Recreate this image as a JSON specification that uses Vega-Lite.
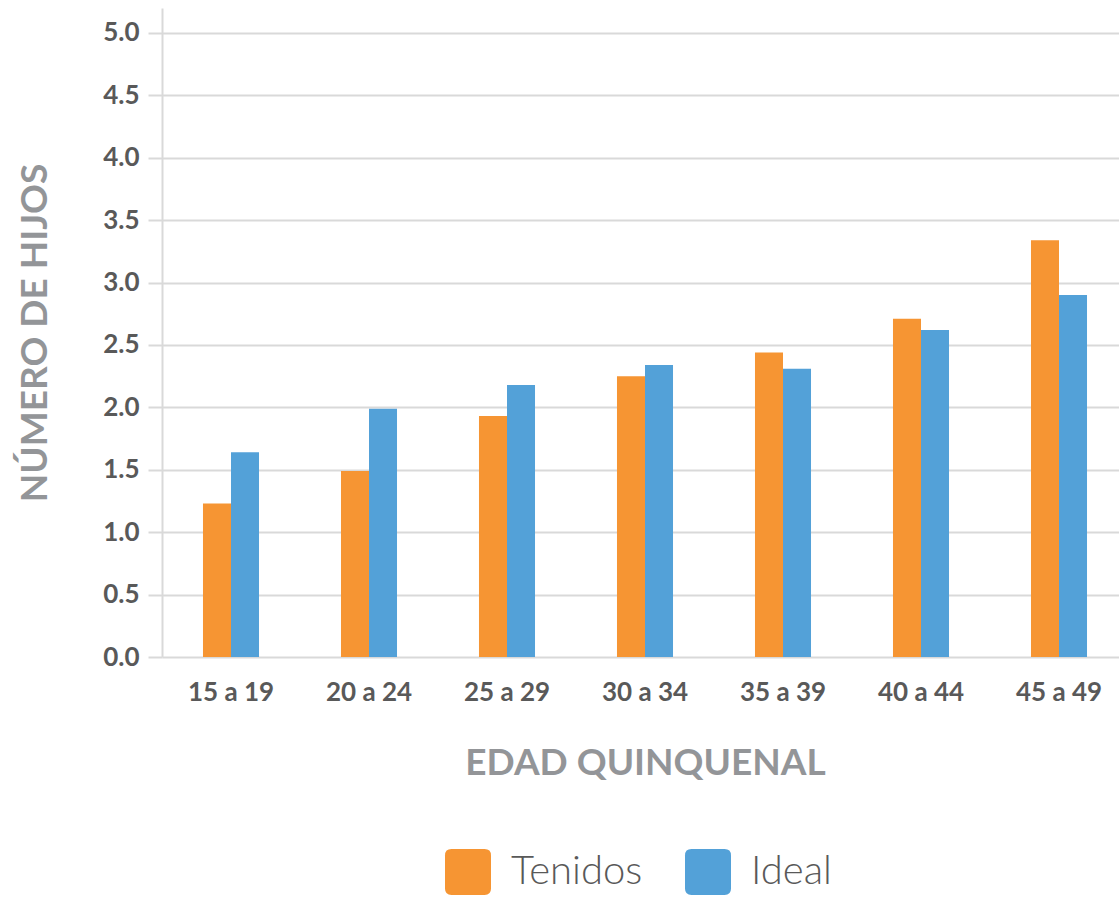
{
  "$schema": "https://vega.github.io/schema/vega-lite/v6.json",
  "width": 966,
  "height": 649,
  "padding": {"left": 16, "top": 8, "right": 0, "bottom": 0},
  "background": "white",
  "data": {
    "values": [
      {"edad": "15 a 19", "serie": "Tenidos", "valor": 1.23},
      {"edad": "15 a 19", "serie": "Ideal", "valor": 1.64},
      {"edad": "20 a 24", "serie": "Tenidos", "valor": 1.49},
      {"edad": "20 a 24", "serie": "Ideal", "valor": 1.99},
      {"edad": "25 a 29", "serie": "Tenidos", "valor": 1.93},
      {"edad": "25 a 29", "serie": "Ideal", "valor": 2.18},
      {"edad": "30 a 34", "serie": "Tenidos", "valor": 2.25},
      {"edad": "30 a 34", "serie": "Ideal", "valor": 2.34},
      {"edad": "35 a 39", "serie": "Tenidos", "valor": 2.44},
      {"edad": "35 a 39", "serie": "Ideal", "valor": 2.31},
      {"edad": "40 a 44", "serie": "Tenidos", "valor": 2.71},
      {"edad": "40 a 44", "serie": "Ideal", "valor": 2.62},
      {"edad": "45 a 49", "serie": "Tenidos", "valor": 3.34},
      {"edad": "45 a 49", "serie": "Ideal", "valor": 2.90}
    ]
  },
  "mark": {"type": "bar"},
  "encoding": {
    "x": {
      "field": "edad",
      "type": "nominal",
      "sort": null,
      "scale": {"paddingInner": 0.594, "paddingOuter": 0.297},
      "axis": {
        "title": "EDAD QUINQUENAL",
        "labelAngle": 0,
        "domain": false,
        "ticks": false,
        "labelPadding": 22,
        "titlePadding": 40
      }
    },
    "xOffset": {
      "field": "serie",
      "type": "nominal",
      "sort": ["Tenidos", "Ideal"],
      "scale": {"paddingInner": 0, "paddingOuter": 0}
    },
    "y": {
      "field": "valor",
      "type": "quantitative",
      "scale": {"domain": [0, 5.2], "nice": false},
      "axis": {
        "title": "NÚMERO DE HIJOS",
        "values": [0, 0.5, 1, 1.5, 2, 2.5, 3, 3.5, 4, 4.5, 5],
        "format": ".1f",
        "tickSize": 14,
        "labelPadding": 9,
        "titlePadding": 48,
        "domain": true
      }
    },
    "color": {
      "field": "serie",
      "type": "nominal",
      "sort": ["Tenidos", "Ideal"],
      "scale": {"domain": ["Tenidos", "Ideal"], "range": ["#F69533", "#53A1D8"]},
      "legend": {
        "title": null,
        "orient": "none",
        "legendX": 283,
        "legendY": 841,
        "direction": "horizontal",
        "symbolType": "M -0.72 -1 H 0.72 Q 1 -1 1 -0.72 V 0.72 Q 1 1 0.72 1 H -0.72 Q -1 1 -1 0.72 V -0.72 Q -1 -1 -0.72 -1 Z",
        "symbolSize": 2116,
        "symbolStrokeWidth": 0,
        "symbolOpacity": 1,
        "labelFont": "Lato",
        "labelFontWeight": 300,
        "labelFontSize": 40,
        "labelColor": "#595959",
        "labelOffset": 20,
        "columnPadding": 42
      }
    }
  },
  "config": {
    "view": {"stroke": null},
    "axis": {
      "labelFont": "Lato",
      "labelFontWeight": "bold",
      "labelFontSize": 26,
      "labelColor": "#595959",
      "titleFont": "Lato",
      "titleFontWeight": "bold",
      "titleFontSize": 37,
      "titleColor": "#939598",
      "gridColor": "#d9d9d9",
      "gridWidth": 2,
      "gridOpacity": 1,
      "tickColor": "#d9d9d9",
      "tickWidth": 2,
      "domainColor": "#d9d9d9",
      "domainWidth": 2
    },
    "axisX": {"grid": false}
  }
}
